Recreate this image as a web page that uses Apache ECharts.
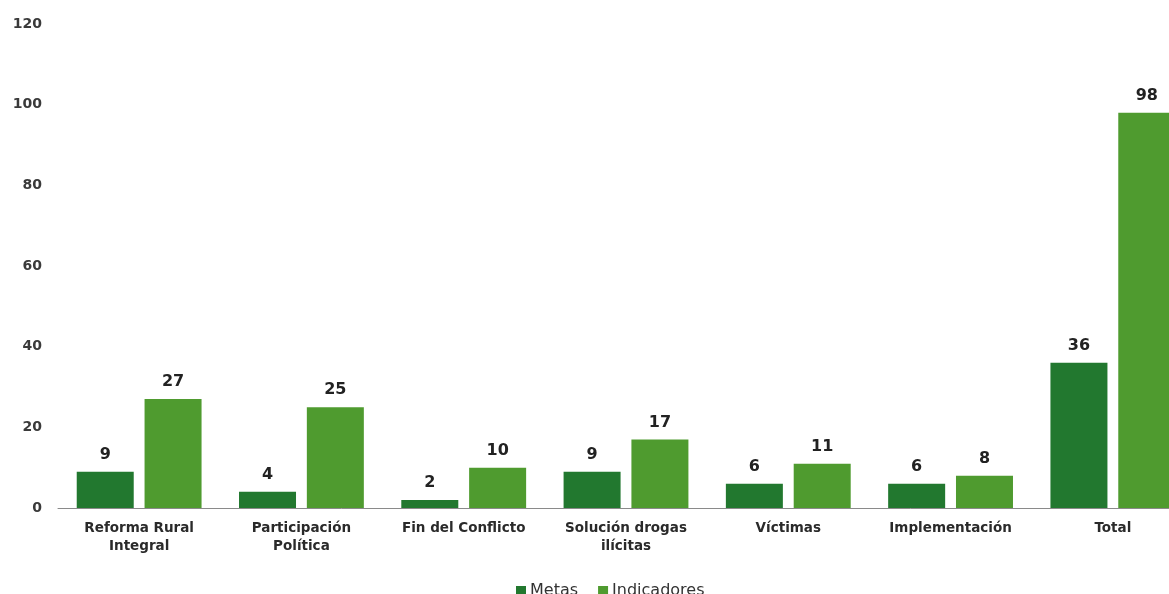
<!DOCTYPE html>
<html>
<head>
<meta charset="utf-8">
<script src="https://cdn.jsdelivr.net/npm/echarts@6/dist/echarts.min.js"></script>
<style>
html,body{margin:0;padding:0;background:#fff;overflow:hidden;width:1169px;height:594px;}
#chart{width:1194px;height:594px;}
</style>
</head>
<body>
<div id="chart"></div>
<script>
const categories = ['Reforma Rural\nIntegral', 'Participación\nPolítica', 'Fin del Conflicto', 'Solución drogas\nilícitas', 'Víctimas', 'Implementación', 'Total'];
const metas = [9, 4, 2, 9, 6, 6, 36];
const indicadores = [27, 25, 10, 17, 11, 8, 98];
const yTicks = [0, 20, 40, 60, 80, 100, 120];

const FONT = '"DejaVu Sans", sans-serif';
const chart = echarts.init(document.getElementById('chart'), null, {renderer: 'canvas'});
const valueLabel = {
  show: true, position: 'top', distance: 9,
  fontFamily: FONT, fontSize: 16, fontWeight: 'bold', color: '#222'
};
chart.setOption({
  animation: false,
  backgroundColor: '#ffffff',
  grid: {left: 58, top: 24, right: 0, bottom: 86, containLabel: false},
  legend: {
    left: 511, top: 578,
    itemWidth: 10, itemHeight: 10, itemGap: 20,
    icon: 'rect',
    textStyle: {fontFamily: FONT, fontSize: 16, color: '#333', padding: [0, 0, 0, -1]},
    data: ['Metas', 'Indicadores']
  },
  xAxis: {
    type: 'category',
    data: categories,
    axisLine: {show: true, lineStyle: {color: '#8a8a8a', width: 1}},
    axisTick: {show: false},
    axisLabel: {
      interval: 0, margin: 11,
      fontFamily: FONT, fontSize: 13.5, fontWeight: 'bold', color: '#2a2a2a', lineHeight: 18
    }
  },
  yAxis: {
    type: 'value',
    min: yTicks[0], max: yTicks[yTicks.length - 1], interval: 20,
    axisLine: {show: false},
    axisTick: {show: false},
    splitLine: {show: false},
    axisLabel: {margin: 16, fontFamily: FONT, fontSize: 14, fontWeight: 'bold', color: '#3a3a3a'}
  },
  series: [
    {
      name: 'Metas', type: 'bar', data: metas,
      barWidth: 57, barGap: '19%',
      itemStyle: {color: '#22782f'},
      label: valueLabel
    },
    {
      name: 'Indicadores', type: 'bar', data: indicadores,
      barWidth: 57,
      itemStyle: {color: '#4f9b2f'},
      label: valueLabel
    }
  ]
});
</script>
</body>
</html>
